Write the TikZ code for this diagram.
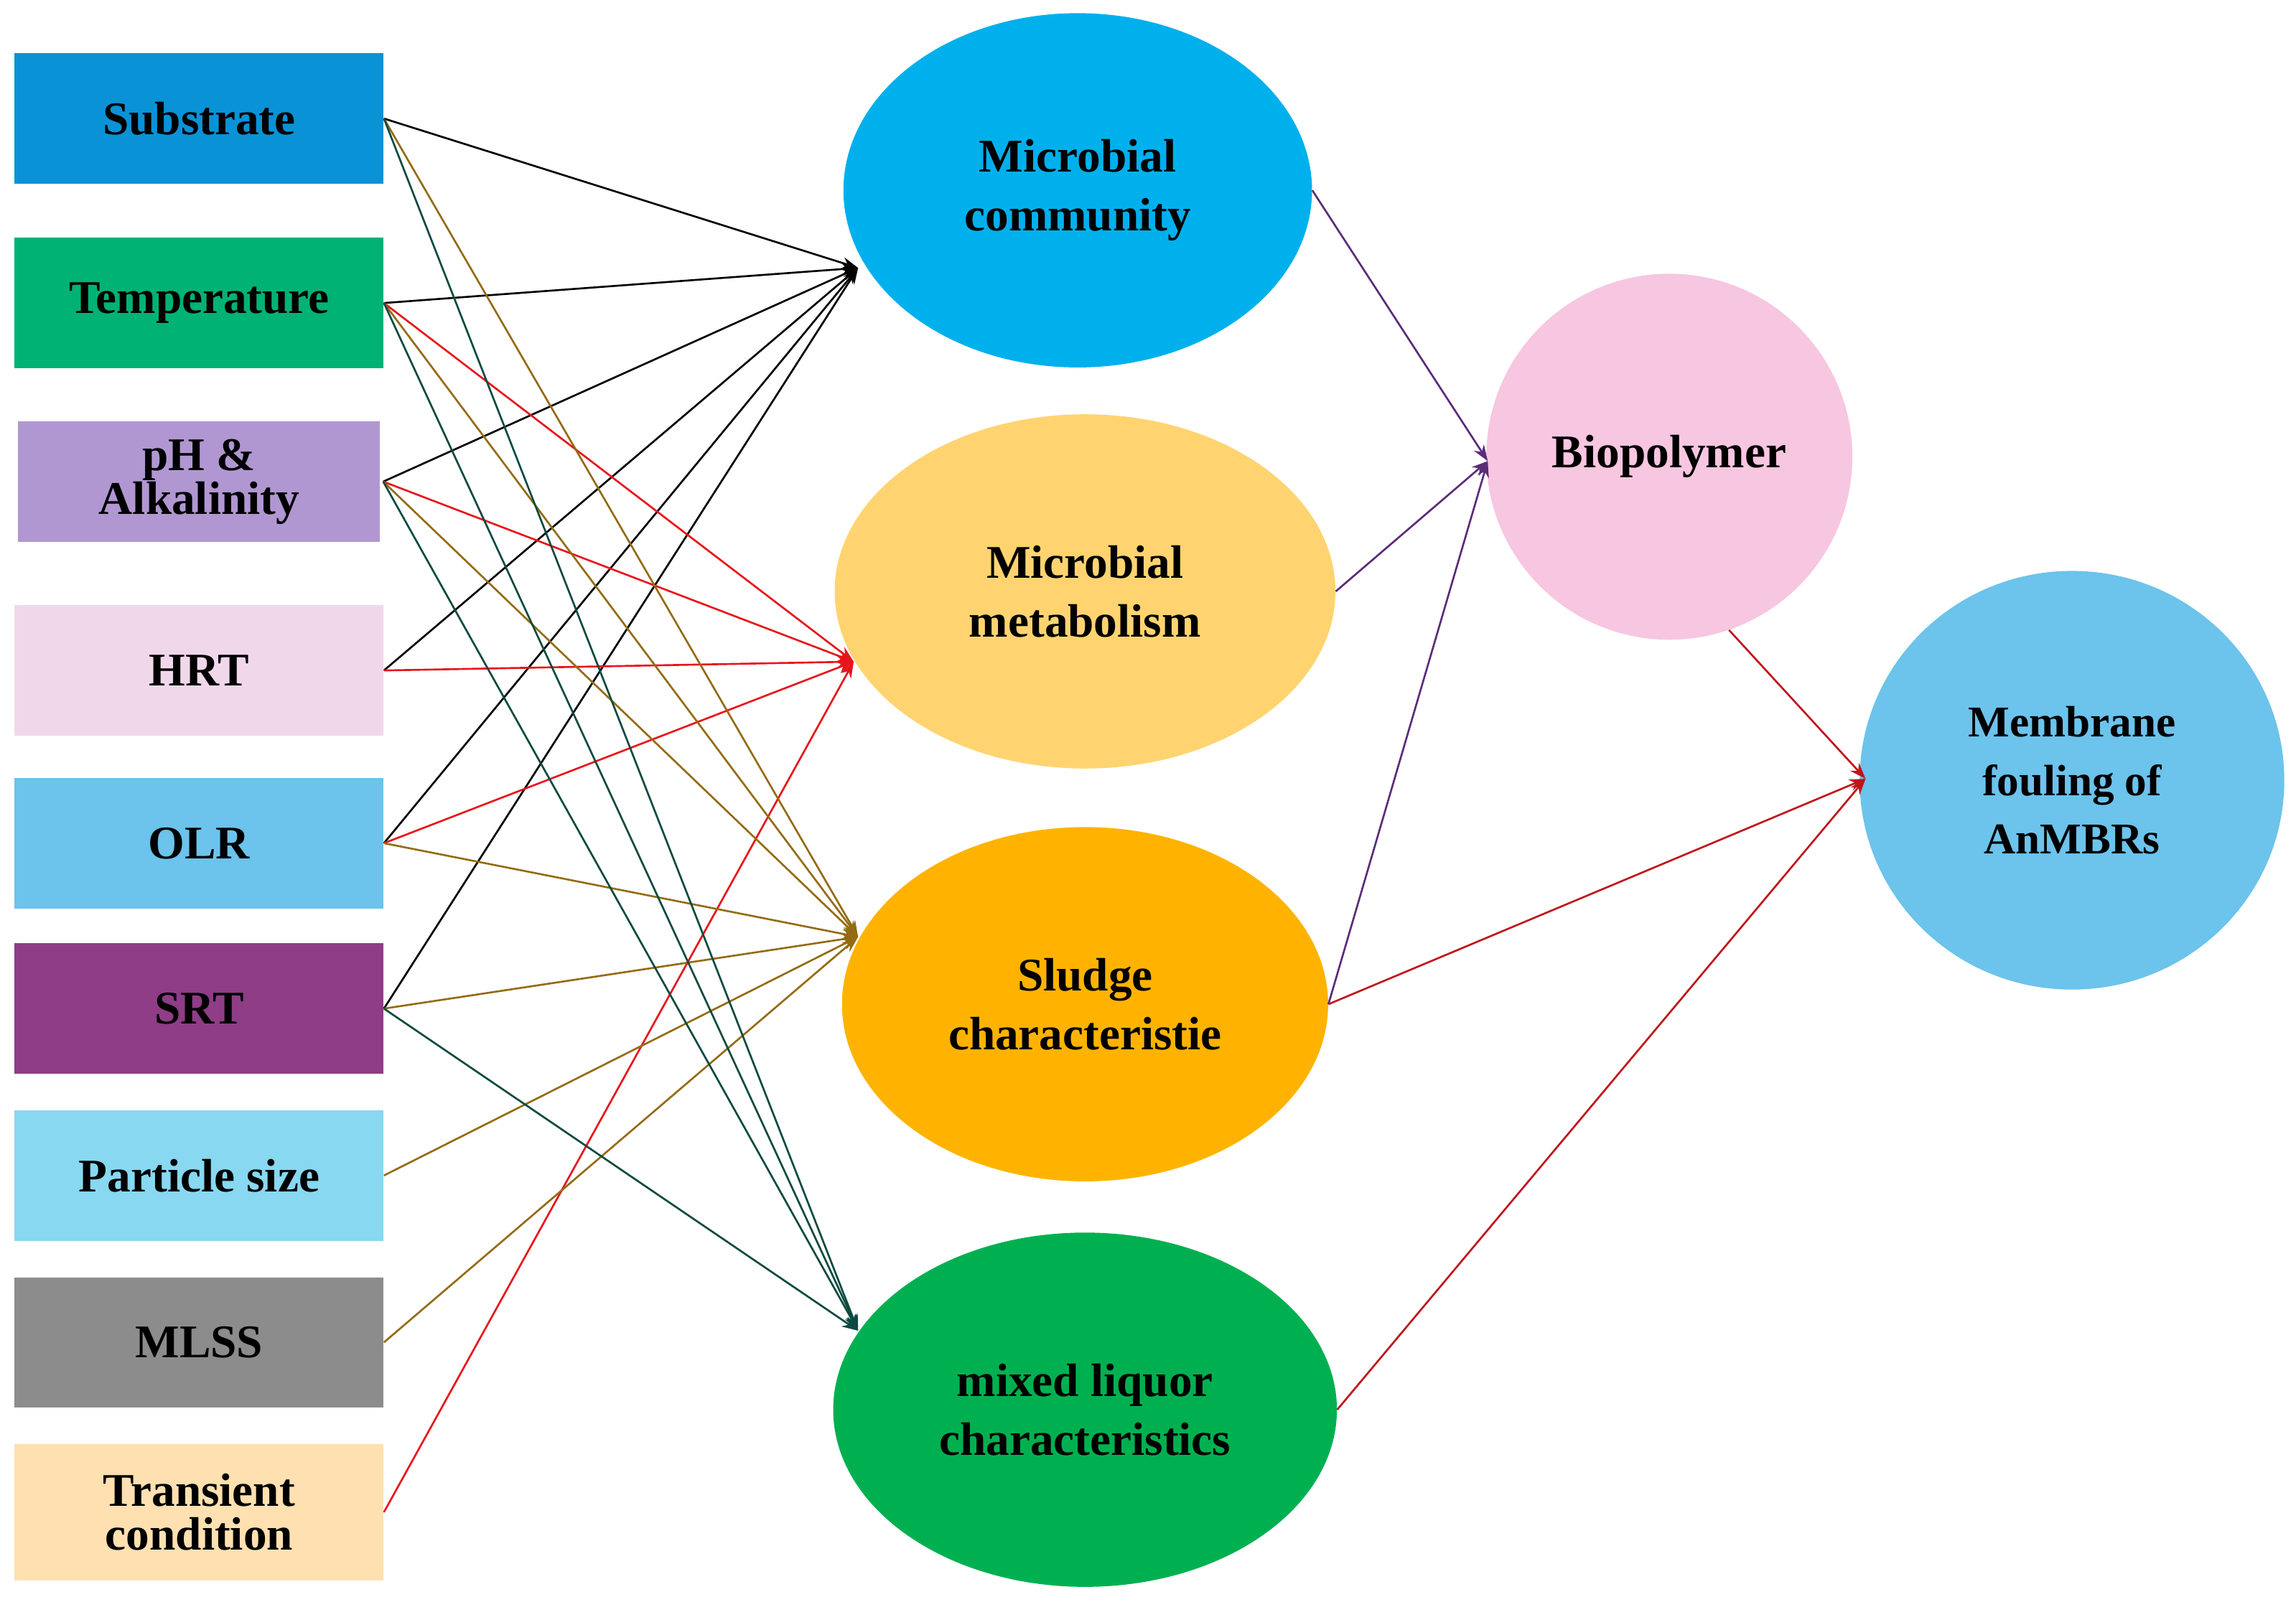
\documentclass[tikz,border=0pt]{standalone}
\usepackage{fontspec}
\setmainfont{Liberation Serif}
\usetikzlibrary{arrows.meta,shapes.geometric}
\definecolor{cSub}{HTML}{0A92D6}\definecolor{cTem}{HTML}{00B274}\definecolor{cPH}{HTML}{B097D2}
\definecolor{cHRT}{HTML}{F0D8EA}\definecolor{cOLR}{HTML}{6CC3EB}\definecolor{cSRT}{HTML}{8E3D86}
\definecolor{cPar}{HTML}{87D8F0}\definecolor{cMLS}{HTML}{8C8C8C}\definecolor{cTra}{HTML}{FFE0B0}
\definecolor{cCom}{HTML}{00B0EC}\definecolor{cMet}{HTML}{FFD470}\definecolor{cSlu}{HTML}{FFB300}
\definecolor{cMix}{HTML}{00B050}\definecolor{cBio}{HTML}{F7C6E0}\definecolor{cMem}{HTML}{6CC3EB}
\definecolor{lBrown}{HTML}{946B12}\definecolor{lTeal}{HTML}{0B4A40}\definecolor{lRed}{HTML}{E8141C}
\definecolor{lPur}{HTML}{5B2C78}\definecolor{lDRed}{HTML}{C0141C}
\begin{document}
\begin{tikzpicture}[x=1pt,y=-1pt,
  box/.style={draw=none,minimum width=252pt,minimum height=89pt,inner sep=0pt,align=center,font=\fontsize{32}{34}\selectfont\bfseries},
  ell/.style={ellipse,draw=none,inner sep=0pt,align=center,font=\fontsize{32}{40}\selectfont\bfseries},
  ln/.style={line width=1.3pt},
  ar/.style={ln,-{Stealth[length=11pt,width=8pt]}}]
\useasboundingbox (0,0) rectangle (1568,1094);
\node[box,fill=cSub] (sub) at (136,81) {Substrate};
\node[box,fill=cTem] (tem) at (136,207) {Temperature};
\node[box,fill=cPH,minimum width=247pt,minimum height=82pt] (ph) at (136,329) {pH \&\\[-4pt]Alkalinity};
\node[box,fill=cHRT] (hrt) at (136,458) {HRT};
\node[box,fill=cOLR] (olr) at (136,576) {OLR};
\node[box,fill=cSRT] (srt) at (136,689) {SRT};
\node[box,fill=cPar] (par) at (136,803) {Particle size};
\node[box,fill=cMLS] (mls) at (136,917) {MLSS};
\node[box,fill=cTra,minimum height=93pt] (tra) at (136,1033) {Transient\\[-4pt]condition};
\node[ell,fill=cCom,minimum width=320pt,minimum height=242pt] (com) at (736,130) {Microbial\\community};
\node[ell,fill=cMet,minimum width=342pt,minimum height=242pt] (met) at (741,404) {Microbial\\metabolism};
\node[ell,fill=cSlu,minimum width=332pt,minimum height=242pt] (slu) at (741,686) {Sludge\\characteristie};
\node[ell,fill=cMix,minimum width=344pt,minimum height=242pt] (mix) at (741,963) {mixed liquor\\characteristics};
\node[ell,fill=cBio,minimum width=250pt,minimum height=250pt] (bio) at (1140,312) {Biopolymer};
\node[ell,fill=cMem,minimum width=290pt,minimum height=286pt,font=\fontsize{30}{40}\selectfont\bfseries] (mem) at (1415,533) {Membrane\\fouling of\\AnMBRs};
\coordinate (pCom) at (586,183);
\coordinate (pMet) at (583,452);
\coordinate (pSlu) at (586,640);
\coordinate (pMix) at (586,909);
\coordinate (pBio) at (1016,315);
\coordinate (pMem) at (1274,532);
\foreach \n in {sub,tem,hrt,olr,srt}{\draw[ar,black] (\n.east) -- (pCom);}
\draw[ar,black] ([xshift=2pt]ph.east) -- (pCom);
\foreach \n in {tem,hrt,olr,tra}{\draw[ar,lRed] (\n.east) -- (pMet);}
\draw[ar,lRed] ([xshift=2pt]ph.east) -- (pMet);
\foreach \n in {sub,tem,olr,srt,par,mls}{\draw[ar,lBrown] (\n.east) -- (pSlu);}
\draw[ar,lBrown] ([xshift=2pt]ph.east) -- (pSlu);
\foreach \n in {sub,tem,srt}{\draw[ar,lTeal] (\n.east) -- (pMix);}
\draw[ar,lTeal] ([xshift=2pt]ph.east) -- (pMix);
\draw[ar,lPur] (com.east) -- (pBio);
\draw[ar,lPur] (met.east) -- (pBio);
\draw[ar,lPur] (slu.east) -- (pBio);
\draw[ar,lDRed] (bio.-71) -- (pMem);
\draw[ar,lDRed] (slu.east) -- (pMem);
\draw[ar,lDRed] (mix.east) -- (pMem);
\end{tikzpicture}
\end{document}
